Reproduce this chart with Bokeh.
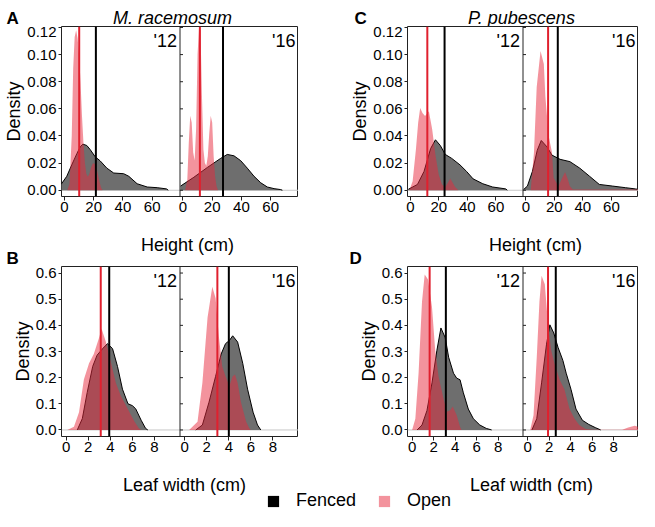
from bokeh.plotting import figure
from bokeh.models import Range1d, Span, Label, FixedTicker, PrintfTickFormatter, Legend, LegendItem
from bokeh.layouts import column, row
from bokeh.embed import file_html
from bokeh.resources import INLINE

# ---------------- data ----------------
years = ["'12", "'16"]

# Panel A: M. racemosum, height (cm)
a12_fenced_x = [-2.3, 1.6, 5, 8.5, 10.8, 12.6, 15.3, 17.6, 21, 24.5, 29, 33.7, 40.5, 44, 49.7, 56.6, 63.4, 69.8, 71]
a12_fenced_y = [0.0043, 0.0103, 0.0187, 0.027, 0.032, 0.034, 0.033, 0.030, 0.0247, 0.0216, 0.0163, 0.0127, 0.0122, 0.0103, 0.0048, 0.0024, 0.0019, 0.001, 0]
a12_open_x = [2, 3.5, 5, 6, 7, 8, 9, 10, 11, 12, 13, 14, 15, 16, 17, 18, 19, 20, 21, 22, 23, 24, 25, 26]
a12_open_y = [0, 0.005, 0.04, 0.09, 0.113, 0.118, 0.112, 0.1, 0.08, 0.055, 0.035, 0.02, 0.012, 0.01, 0.012, 0.016, 0.019, 0.02, 0.019, 0.016, 0.011, 0.006, 0.002, 0]
a16_fenced_x = [-1.6, 7.5, 16.7, 25.8, 30.3, 34.9, 39.5, 44, 48.6, 53.2, 57.7, 62.3, 66.8, 68]
a16_fenced_y = [0.0031, 0.0096, 0.0168, 0.0235, 0.0264, 0.0254, 0.0218, 0.0163, 0.0103, 0.0055, 0.0024, 0.0012, 0.0005, 0]
a16_open_x = [1.5, 3, 4, 5, 6, 7, 8, 9, 10, 11, 12, 13, 14, 15, 16, 17, 18, 19, 20, 21, 22, 23, 24]
a16_open_y = [0, 0.008, 0.035, 0.055, 0.05, 0.028, 0.022, 0.045, 0.1, 0.12, 0.118, 0.07, 0.03, 0.02, 0.018, 0.025, 0.042, 0.055, 0.05, 0.025, 0.01, 0.003, 0]
a_open_med = [10.1, 11.6]
a_fenced_med = [21.5, 27.4]

# Panel C: P. pubescens, height (cm)
c12_fenced_x = [-1.4, 5, 9.6, 14.2, 17.6, 21, 24.5, 29, 34.8, 39.4, 44, 50.8, 57.7, 66.9, 68]
c12_fenced_y = [0.0007, 0.0043, 0.0139, 0.0307, 0.0372, 0.033, 0.0264, 0.0235, 0.0187, 0.0139, 0.0084, 0.0048, 0.0024, 0.001, 0]
c12_open_x = [-0.7, 1.6, 3.9, 5.5, 6.9, 8.5, 10.3, 13, 15.3, 17.6, 19.9, 22.2, 24.5, 26, 28, 30, 31.4, 33.7]
c12_open_y = [0, 0.0067, 0.03, 0.05, 0.0607, 0.057, 0.0547, 0.0583, 0.045, 0.026, 0.0115, 0.0043, 0.0024, 0.005, 0.0086, 0.005, 0.0024, 0]
c16_fenced_x = [-1.6, 1.1, 4.6, 8, 10.8, 14.9, 18.3, 24, 30.9, 37.8, 44.7, 51.5, 60.7, 69.8, 76.7, 78]
c16_fenced_y = [0.0005, 0.0031, 0.0139, 0.0295, 0.0367, 0.0319, 0.0259, 0.0228, 0.0211, 0.0163, 0.0103, 0.0043, 0.0031, 0.0019, 0.001, 0.0008]
c16_open_x = [3.4, 5.7, 7.6, 10.3, 12.6, 13.7, 16, 18.3, 19.5, 22.9, 25, 27.5, 29.5, 30.9, 33, 79]
c16_open_y = [0, 0.028, 0.076, 0.1027, 0.093, 0.069, 0.04, 0.028, 0.0091, 0.003, 0.008, 0.0134, 0.008, 0.003, 0.0005, 0.0005]
c_open_med = [11.9, 15.6]
c_fenced_med = [24.0, 22.4]

# Panel B: M. racemosum, leaf width (cm)
b12_fenced_x = [1.0, 1.46, 1.9, 2.4, 2.8, 3.3, 3.74, 4.2, 4.65, 5.1, 5.6, 6.0, 6.3, 6.8, 7.2, 7.4]
b12_fenced_y = [0, 0.0436, 0.143, 0.243, 0.286, 0.311, 0.33, 0.311, 0.243, 0.156, 0.1, 0.093, 0.081, 0.037, 0.006, 0]
b12_open_x = [0.1, 0.7, 1.16, 1.6, 2.07, 2.5, 3.0, 3.2, 3.6, 4.0, 4.5, 4.96, 5.57, 6.2, 6.6, 6.8]
b12_open_y = [0, 0.012, 0.068, 0.193, 0.255, 0.29, 0.355, 0.388, 0.336, 0.268, 0.18, 0.13, 0.081, 0.031, 0.006, 0]
b16_fenced_x = [1.0, 1.6, 2.2, 2.8, 3.3, 3.7, 4.05, 4.35, 4.8, 5.26, 5.7, 6.2, 6.6, 6.9]
b16_fenced_y = [0, 0.019, 0.106, 0.205, 0.29, 0.33, 0.342, 0.36, 0.336, 0.255, 0.156, 0.068, 0.019, 0]
b16_open_x = [0.4, 1.16, 1.6, 2.07, 2.5, 2.8, 3.1, 3.4, 3.7, 4.05, 4.35, 4.56, 4.8, 5.1, 5.57, 5.87, 6.0]
b16_open_y = [0, 0.031, 0.18, 0.43, 0.548, 0.504, 0.355, 0.243, 0.205, 0.168, 0.205, 0.212, 0.18, 0.106, 0.031, 0.006, 0]
b_open_med = [3.13, 2.96]
b_fenced_med = [3.9, 4.0]

# Panel D: P. pubescens, leaf width (cm)
d12_fenced_x = [0.46, 0.92, 1.38, 1.85, 2.3, 2.68, 3.08, 3.4, 3.85, 4.15, 4.46, 4.77, 5.23, 5.7, 6.3, 6.9, 7.4]
d12_fenced_y = [0, 0.019, 0.074, 0.18, 0.303, 0.39, 0.353, 0.278, 0.217, 0.198, 0.192, 0.142, 0.08, 0.043, 0.019, 0.006, 0]
d12_open_x = [0, 0.3, 0.6, 0.92, 1.17, 1.48, 1.85, 2.15, 2.46, 2.92, 3.23, 3.54, 3.78, 4.15, 4.46, 4.6]
d12_open_y = [0, 0.043, 0.217, 0.49, 0.594, 0.575, 0.47, 0.303, 0.204, 0.12, 0.07, 0.075, 0.09, 0.056, 0.012, 0]
d16_fenced_x = [0.4, 0.85, 1.3, 1.76, 2.07, 2.43, 2.83, 3.28, 3.59, 4.04, 4.5, 5.1, 5.7, 6.3, 6.8]
d16_fenced_y = [0, 0.043, 0.18, 0.328, 0.402, 0.371, 0.316, 0.266, 0.217, 0.155, 0.08, 0.037, 0.021, 0.009, 0]
d16_open_x = [0.24, 0.55, 0.85, 1.1, 1.3, 1.6, 1.9, 2.2, 2.5, 2.98, 3.43, 3.9, 4.37, 4.8, 5.4, 6.0, 8.8, 9.36, 9.97, 10.5]
d16_open_y = [0, 0.056, 0.278, 0.49, 0.59, 0.557, 0.402, 0.303, 0.254, 0.192, 0.155, 0.08, 0.043, 0.019, 0.004, 0.001, 0.001, 0.009, 0.016, 0.01]
d_open_med = [1.63, 1.9]
d_fenced_med = [3.14, 2.62]

height_ticks = [0, 20, 40, 60]
height_dens_ticks = [0.0, 0.02, 0.04, 0.06, 0.08, 0.10, 0.12]
leaf_ticks = [0, 2, 4, 6, 8]
leaf_dens_ticks = [0.0, 0.1, 0.2, 0.3, 0.4, 0.5, 0.6]

# ---------------- styling ----------------
FONT = "Liberation Sans"
FENCED_FILL = "#6e6e6e"
OPEN_FILL = "#e8283c"
OPEN_ALPHA = 0.5
RED_LINE = "#e0202e"
FRAME_COLOR = "#222222"
FRAME_H = 170
BOTTOM = 34

# sub-panel x windows: (start, width)
H_START, H_WIDTH = -2.0, 81.0
L_START, L_WIDTH = -0.43, 10.75


def pair(series, meds_open, meds_fenced, start, width, xticks, yr, yticks, yfmt,
         border_left, fw):
    p = figure(frame_width=fw, frame_height=FRAME_H, title=None,
               x_range=Range1d(start, start + 2 * width), y_range=Range1d(*yr),
               output_backend="svg", toolbar_location=None,
               min_border_left=border_left, min_border_right=0,
               min_border_top=0, min_border_bottom=BOTTOM)
    p.grid.visible = False
    p.outline_line_color = FRAME_COLOR
    p.outline_line_width = 1
    p.add_layout(Span(location=0, dimension="width", line_color="#c8c8c8",
                      line_width=1, level="underlay"))
    for k, (fx, fy, ox, oy) in enumerate(series):
        off = k * width
        p.varea(x=[v + off for v in fx], y1=0, y2=fy, fill_color=FENCED_FILL)
        p.line([v + off for v in fx], fy, line_color="black", line_width=1)
        p.varea(x=[v + off for v in ox], y1=0, y2=oy, fill_color=OPEN_FILL, fill_alpha=OPEN_ALPHA)
        p.add_layout(Span(location=meds_open[k] + off, dimension="height",
                          line_color=RED_LINE, line_width=2))
        p.add_layout(Span(location=meds_fenced[k] + off, dimension="height",
                          line_color="black", line_width=2))
        p.add_layout(Label(x=start + (k + 1) * width, x_offset=-3, y=FRAME_H - 4,
                           y_units="screen", text=years[k], text_align="right",
                           text_baseline="top", text_font=FONT, text_font_size="18px",
                           text_color="black"))
    divider = start + width
    p.add_layout(Span(location=divider, dimension="height", line_color=FRAME_COLOR, line_width=1))
    # inward ticks on the left edge of the second sub-panel
    p.ray(x=[divider] * len(yticks), y=yticks, length=3, length_units="screen",
          angle=0, line_color=FRAME_COLOR, line_width=1)

    xa = p.xaxis[0]
    xa.ticker = FixedTicker(ticks=list(xticks) + [t + width for t in xticks])
    xa.major_label_overrides = {t + width: str(t) for t in xticks}
    xa.axis_line_color = None
    xa.major_tick_in = 0
    xa.major_tick_out = 4
    xa.major_tick_line_color = FRAME_COLOR
    xa.minor_tick_line_color = None
    xa.major_label_standoff = 1
    xa.major_label_text_font = FONT
    xa.major_label_text_font_size = "15px"
    xa.major_label_text_color = "black"

    ya = p.yaxis[0]
    ya.ticker = FixedTicker(ticks=yticks)
    ya.formatter = PrintfTickFormatter(format=yfmt)
    ya.axis_line_color = None
    ya.minor_tick_line_color = None
    ya.major_tick_in = 0
    ya.major_tick_out = 3
    ya.major_tick_line_color = FRAME_COLOR
    ya.major_label_standoff = 2
    ya.major_label_text_font = FONT
    ya.major_label_text_font_size = "15px"
    ya.major_label_text_color = "black"
    ya.axis_label = "Density"
    ya.axis_label_standoff = 0
    ya.axis_label_text_font = FONT
    ya.axis_label_text_font_size = "18px"
    ya.axis_label_text_font_style = "normal"
    ya.axis_label_text_color = "black"
    return p


def strip(h):
    s = figure(width=639, height=h, title=None, x_range=Range1d(0, 639), y_range=Range1d(h, 0),
               output_backend="svg", toolbar_location=None, min_border=0,
               x_axis_location=None, y_axis_location=None)
    s.grid.visible = False
    s.outline_line_color = None
    return s


def txt(s, x, y, t, align="left", style="normal", size="18px"):
    s.add_layout(Label(x=x, y=y, text=t, text_align=align, text_baseline="alphabetic",
                       text_font=FONT, text_font_size=size, text_font_style=style,
                       text_color="black"))


figA = pair([(a12_fenced_x, a12_fenced_y, a12_open_x, a12_open_y),
             (a16_fenced_x, a16_fenced_y, a16_open_x, a16_open_y)],
            a_open_med, a_fenced_med, H_START, H_WIDTH, height_ticks,
            (-0.0046, 0.1207), height_dens_ticks, "%.2f", 61, 237)
figC = pair([(c12_fenced_x, c12_fenced_y, c12_open_x, c12_open_y),
             (c16_fenced_x, c16_fenced_y, c16_open_x, c16_open_y)],
            c_open_med, c_fenced_med, H_START, H_WIDTH, height_ticks,
            (-0.0046, 0.1207), height_dens_ticks, "%.2f", 109, 231)
figB = pair([(b12_fenced_x, b12_fenced_y, b12_open_x, b12_open_y),
             (b16_fenced_x, b16_fenced_y, b16_open_x, b16_open_y)],
            b_open_med, b_fenced_med, L_START, L_WIDTH, leaf_ticks,
            (-0.025, 0.625), leaf_dens_ticks, "%.1f", 61, 237)
figD = pair([(d12_fenced_x, d12_fenced_y, d12_open_x, d12_open_y),
             (d16_fenced_x, d16_fenced_y, d16_open_x, d16_open_y)],
            d_open_med, d_fenced_med, L_START, L_WIDTH, leaf_ticks,
            (-0.025, 0.625), leaf_dens_ticks, "%.1f", 109, 231)

# title strip
s1 = strip(26)
txt(s1, 6, 18, "A", style="bold", size="17px")
txt(s1, 172, 17, "M. racemosum", align="center", style="italic")
txt(s1, 354, 18, "C", style="bold", size="17px")
txt(s1, 521, 17, "P. pubescens", align="center", style="italic")

# middle strip
s2 = strip(36)
txt(s2, 187, 14, "Height (cm)", align="center")
txt(s2, 535, 14, "Height (cm)", align="center")
txt(s2, 6, 28, "B", style="bold", size="17px")
txt(s2, 349, 28, "D", style="bold", size="17px")

# bottom strip with x labels and legend
s3 = strip(41)
txt(s3, 184, 14, "Leaf width (cm)", align="center")
txt(s3, 531, 14, "Leaf width (cm)", align="center")
nan = float("nan")
r_f = s3.varea(x=[nan], y1=[nan], y2=[nan], fill_color="black")
r_o = s3.varea(x=[nan], y1=[nan], y2=[nan], fill_color=OPEN_FILL, fill_alpha=OPEN_ALPHA)
leg = Legend(items=[LegendItem(label="Fenced", renderers=[r_f]),
                    LegendItem(label="Open", renderers=[r_o])],
             location=(266, 0), orientation="horizontal",
             border_line_color=None, background_fill_alpha=0,
             padding=0, margin=0, spacing=21, label_standoff=16,
             glyph_width=14, glyph_height=14, label_height=14,
             label_text_font=FONT, label_text_font_size="18px",
             label_text_color="black")
s3.add_layout(leg)

layout = column(s1, row(figA, figC), s2, row(figB, figD), s3)

open("out.html", "w").write(file_html(layout, INLINE))
